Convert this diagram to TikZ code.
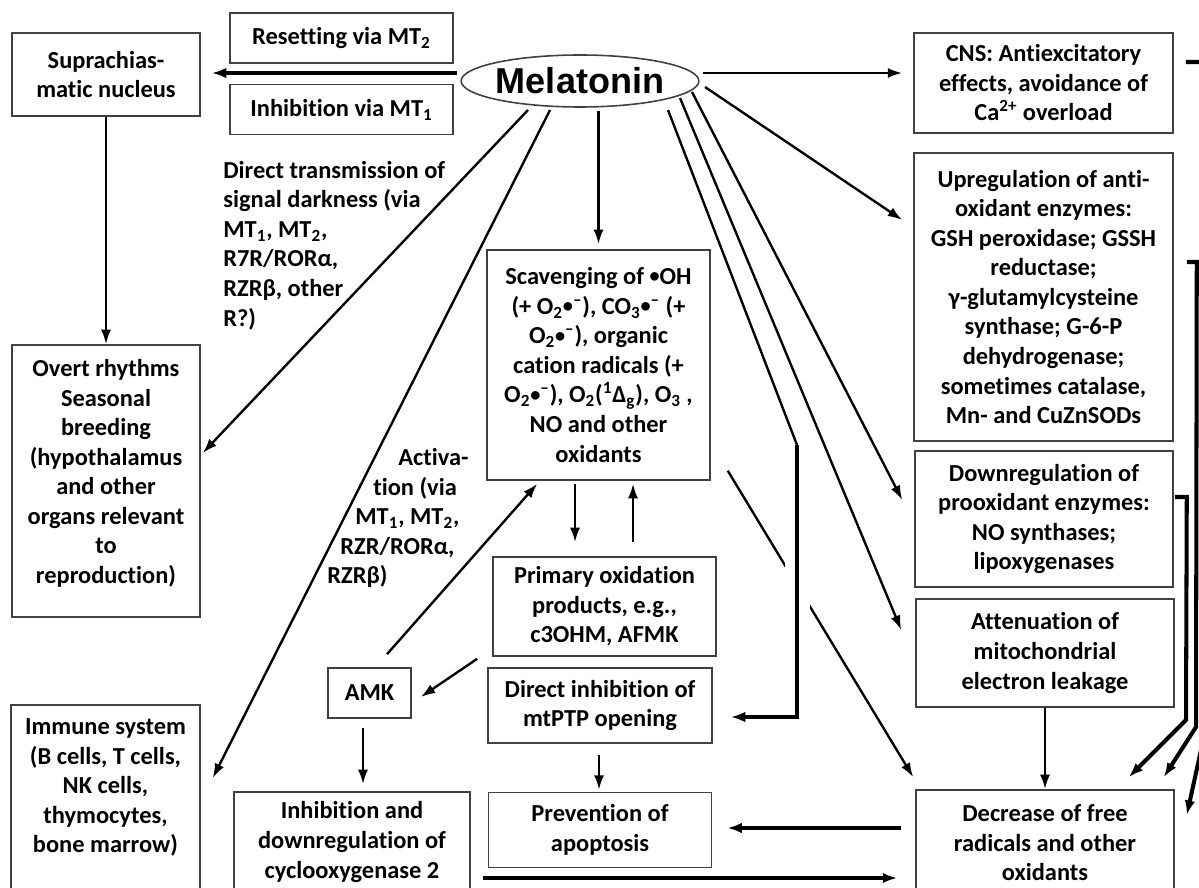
\documentclass[tikz,border=0pt]{standalone}
\usepackage{fontspec}
\setmainfont{Carlito}[Ligatures=NoCommon]
\newfontfamily\melfont{Liberation Sans}
\usetikzlibrary{shapes,arrows.meta,calc}
\usetikzlibrary{positioning}
\tikzstyle{frame} = [
        rectangle, draw=black!75, line width=0.9pt,
        align=center, inner sep=0pt
    ]
\tikzstyle{note} = [align=left, inner sep=0pt]
\tikzstyle{wire} = [draw, line width=1.35pt]
\tikzstyle{line} = [draw, line width=1.35pt, -{Latex[length=2.9mm,width=2mm]}]
\tikzstyle{heavy} = [draw, line width=1.8pt, -{Latex[length=2.9mm,width=2.1mm]}]
\tikzstyle{bracket} = [draw, line width=2.3pt, -{Latex[length=2.9mm,width=2.1mm]}]
\newcommand{\dn}[1]{\rule[-#1]{0pt}{#1}}
\newcommand{\rad}{\raisebox{1.1pt}{\fontsize{11.5}{11.5}\selectfont\textbullet}}

\begin{document}
\begin{tikzpicture}[x=0.02cm, y=-0.02cm, node distance = 1cm,
    font=\fontsize{13.9}{16.8}\selectfont\bfseries]
    \fill[white] (0,0) rectangle (1199,888);
    \useasboundingbox (0,0) rectangle (1199,888);
    \clip (0,0) rectangle (1199,888);

    % left column
    \node [frame, minimum width=3.76cm, minimum height=1.66cm] (scn) at (106,74.5) {Suprachias-\\matic nucleus};
    \node [frame, minimum width=3.76cm, minimum height=5.44cm] (overt) at (106,481) {Overt rhythms\\Seasonal\\breeding\\(hypothalamus\\and other\\organs relevant\\to\\reproduction)\dn{0.38cm}};
    \node [frame, minimum width=3.78cm, minimum height=4cm] (immune) at (105.5,805) {Immune system\\(B cells, T cells,\\NK cells,\\thymocytes,\\bone marrow)\dn{0.76cm}};

    % top row
    \node [frame, minimum width=4.46cm, minimum height=1cm] (reset) at (341.5,38) {Resetting via MT\textsubscript{2}};
    \node [frame, minimum width=4.46cm, minimum height=1cm, below=0.4cm of reset] (inhib) {Inhibition via MT\textsubscript{1}};
    \node [ellipse, draw=black!75, line width=0.9pt, inner sep=0pt, minimum width=4.48cm, minimum height=1.04cm,
        font=\melfont\bfseries\fontsize{20.5}{24}\selectfont] (mel) at (580,81) {Melatonin};

    % middle
    \node [frame, minimum width=4.46cm, minimum height=4.6cm] (scav) at (598.5,365) {Scavenging of \rad OH\\(+ O\textsubscript{2}\rad\textsuperscript{–}), CO\textsubscript{3}\rad\textsuperscript{–} (+\\O\textsubscript{2}\rad\textsuperscript{–}), organic\\cation radicals (+\\O\textsubscript{2}\rad\textsuperscript{–}), O\textsubscript{2}(\textsuperscript{1}Δ\textsubscript{g}), O\textsubscript{3} ,\\NO and other\\oxidants};
    \node [frame, minimum width=4.46cm, minimum height=1.98cm] (prim) at (604.5,606.5) {Primary oxidation\\products, e.g.,\\c3OHM, AFMK};
    \node [frame, minimum width=1.66cm, minimum height=1cm] (amk) at (369.5,693) {AMK};
    \node [frame, minimum width=4.48cm, minimum height=1.5cm] (dinh) at (600,705.5) {Direct inhibition of\\mtPTP opening};
    \node [frame, minimum width=4.46cm, minimum height=1.5cm, below=0.96cm of dinh] (prev) {Prevention of\\apoptosis};
    \node [frame, minimum width=4.72cm, minimum height=2cm] (cox) at (352,842) {Inhibition and\\downregulation of\\cyclooxygenase 2};

    % right column
    \node [frame, minimum width=5.18cm, minimum height=2cm] (cns) at (1043.5,83) {CNS: Antiexcitatory\\effects, avoidance of\\Ca\textsuperscript{2+} overload};
    \node [frame, minimum width=5.18cm, minimum height=5.76cm] (up) at (1043.5,297) {Upregulation of anti-\\oxidant enzymes:\\GSH peroxidase; GSSH\\reductase;\\γ-glutamylcysteine\\synthase; G-6-P\\dehydrogenase;\\sometimes catalase,\\Mn- and CuZnSODs};
    \node [frame, minimum width=5.16cm, minimum height=2.72cm] (down) at (1044,519) {Downregulation of\\prooxidant enzymes:\\NO synthases;\\lipoxygenases};
    \node [frame, minimum width=5.16cm, minimum height=2.16cm] (atten) at (1045,653) {Attenuation of\\mitochondrial\\electron leakage};
    \node [frame, minimum width=5.16cm, minimum height=2.12cm] (decr) at (1045,843) {Decrease of free\\radicals and other\\oxidants};

    % free labels
    \node [note, anchor=west] (dtrans) at (223,245.5) {Direct transmission of\\signal darkness (via\\MT\textsubscript{1}, MT\textsubscript{2},\\R7R/RORα,\\RZRβ, other\\R?)};
    \node [note, anchor=west] (activ) at (327,518) {\hspace*{1.42cm}Activa-\\\hspace*{0.92cm}tion (via\\\hspace*{0.56cm}MT\textsubscript{1}, MT\textsubscript{2},\\\hspace*{0.26cm}RZR/RORα,\\RZRβ)};

    \coordinate (knee) at (797,445);

    % from melatonin
    \path [heavy, shorten >=0.22cm] ($(mel)+(-123,-8)$) coordinate (m1) -- (m1 -| scn.east);
    \path [line, shorten >=0.22cm] ($(mel)+(123,-8)$) coordinate (m2) -- (m2 -| cns.west);
    \path [line] ($(mel)+(-52,29)$) -- ($(overt.east)+(2,-28)$);
    \path [line] ($(mel)+(-30,29)$) -- ($(immune.east)+(12,-27)$);
    \path [line, shorten <=0.06cm, shorten >=0.1cm] (mel.south -| scav.north) -- (scav.north);
    \path [line] ($(mel)+(125,6)$) -- ($(up.west)+(-11,-77)$);
    \path [line] ($(mel)+(112,11)$) -- ($(down.west)+(-12,-19)$);
    \path [line] ($(mel)+(100,17)$) -- ($(atten.west)+(-14,-23)$);
    \path [wire] ($(mel)+(88,29)$) -- (knee);

    % middle arrows
    \path [line] (scn) -- (overt);
    \path [line] ($(scav.south)+(-23.5,3)$) -- ($(prim.north)+(-29.5,-14)$);
    \path [line] ($(prim.north)+(28.5,-14)$) -- ($(scav.south)+(34.5,3)$);
    \path [line] ($(scav.south east)+(17,-10)$) -- ($(decr.north west)+(-2,-12)$);
    \draw [white, line width=0.5cm] (797,560) -- (797,615);
    \path [bracket] (knee) |- ($(dinh.east)+(18,11.5)$);
    \path [line] ($(amk.north)+(17.5,-13)$) -- ($(scav.south west)+(51,3)$);
    \path [line] ($(prim.south west)+(-15,2)$) -- ($(amk.east)+(9,4)$);
    \path [line] ($(amk.south)+(-6.5,9)$) coordinate (a1) -- ($(a1 |- cox.north)+(0,-7)$);
    \path [line] ($(dinh.south)+(-1,11)$) -- ($(prev.north)+(-1,-2)$);
    \path [line] (atten) -- (decr);
    \path [heavy, shorten >=0.3cm] ($(decr.west)+(-14,-15)$) coordinate (d1) -- (d1 -| prev.east);
    \path [heavy, shorten >=0.36cm] ($(cox.east)+(12,36)$) coordinate (c1) -- (c1 -| decr.west);

    % right brackets
    \path [bracket] ($(cns.east)+(12,-21)$) -- ++(30,0) -- (1215,686) -- ($(decr.east)+(12,-28)$);
    \path [bracket] ($(up.east)+(13,-35)$) -- ++(10,0) -- (1196,727) -- ($(decr.north east)+(-11,-12)$);
    \path [bracket] ($(down.east)+(1,-22)$) -- ++(12,0) -- (1186,720) -- ($(decr.north east)+(-46,-12)$);
\end{tikzpicture}
\end{document}
